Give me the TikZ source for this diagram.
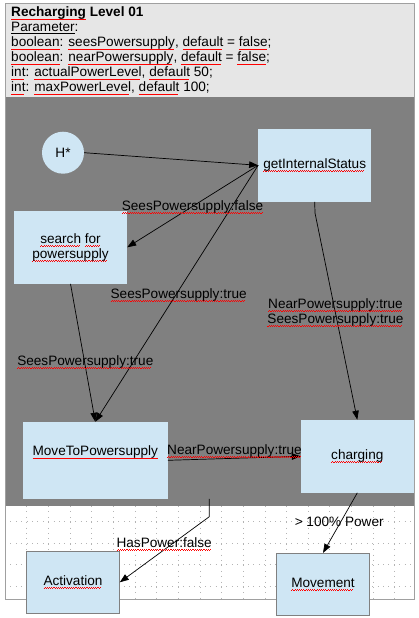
\documentclass[tikz,border=0pt]{standalone}
\usepackage{fontspec}
\setmainfont{Liberation Sans}
\usetikzlibrary{arrows.meta}
\definecolor{boxblue}{HTML}{CFE6F4}
\definecolor{hdrgrey}{HTML}{E6E6E6}
\definecolor{darkgrey}{HTML}{808080}
\definecolor{framegrey}{HTML}{A0A0A0}
\definecolor{gridgrey}{HTML}{B4B4B4}
\newsavebox\sqbox
\newcommand\sqw[1]{\sbox\sqbox{#1}\leavevmode\rlap{\textcolor{red}{\leaders\hbox{\rule[-3.3pt]{1.1pt}{0.8pt}\rule[-2.5pt]{1.1pt}{0.8pt}}\hskip\wd\sqbox}}\usebox\sqbox}
\tikzset{
  every node/.style={font=\fontsize{13.6}{15}\selectfont, text=black},
  statebox/.style={fill=boxblue, draw=none, align=center, inner sep=0pt},
  edgeline/.style={draw=black, line width=0.7pt, -{Triangle[length=9pt,width=6.5pt]}},
  lbl/.style={inner sep=0pt, anchor=base},
  gridline/.style={gridgrey, line width=0.7pt, dash pattern=on 1pt off 4.4pt}
}
\begin{document}
\begin{tikzpicture}[x=1pt,y=-1pt]
\useasboundingbox (0,0) rectangle (418,618);
% backgrounds
\fill[hdrgrey] (5,4) rectangle (414,97);
\fill[darkgrey] (5,97) rectangle (414,506);
\foreach \i in {0,...,17} \draw[gridline] ({26.7+21.65*\i},506) -- ({26.7+21.65*\i},599);
\foreach \j in {0,...,3} \draw[gridline] (5,{521.7+21.5*\j}) -- (414,{521.7+21.5*\j});
\draw[framegrey, line width=1pt] (5,4) rectangle (414,599);
% header
\node[anchor=north west, align=left, inner sep=0pt] (hdr) at (11,6.8) {%
\textbf{\sqw{Recharging} Level 01}\\
\underline{Parameter}:\\
\sqw{boolean}: \sqw{seesPowersupply}, \sqw{default} = \sqw{false};\\
\sqw{boolean}: \sqw{nearPowersupply}, \sqw{default} = \sqw{false};\\
\sqw{int}: \sqw{actualPowerLevel}, \sqw{default} 50;\\
\sqw{int}: \sqw{maxPowerLevel}, \sqw{default} 100;};
% states
\node[circle, fill=boxblue, minimum size=42pt, inner sep=0pt] (h) at (63,152.7) {H*};
\node[statebox, minimum width=112.7pt, minimum height=72.7pt] (gis) at (314.7,165.3) {\sqw{getInternalStatus}};
\node[statebox, minimum width=113pt, minimum height=72.7pt] (search) at (70.5,247.3) {\sqw{search} \sqw{for}\\\sqw{powersupply}};
\node[statebox, minimum width=144.7pt, minimum height=76.7pt, text height=9.5pt, text depth=18.5pt] (move) at (95.3,460.3) {\sqw{MoveToPowersupply}};
\node[statebox, minimum width=112.7pt, minimum height=72.7pt] (chg) at (357.3,456.3) {\sqw{charging}};
\node[statebox, draw=darkgrey, line width=0.8pt, minimum width=92.7pt, minimum height=62pt] (act) at (73,582.3) {\sqw{Activation}};
\node[statebox, draw=darkgrey, line width=0.8pt, minimum width=92.7pt, minimum height=61.7pt] (mov) at (323,584.2) {\sqw{Movement}};
% connectors
\coordinate (g1) at (315,213);
\coordinate (m2) at (209.3,516.7);
\draw[edgeline] (h.east) -- (gis.west);
\draw[edgeline] (gis.west) -- (search.east);
\draw[edgeline] (gis.west) -- (move.north);
\draw[edgeline] (search.south) -- (move.north);
\draw[edgeline] (gis.south) -- (g1) -- (chg.north);
\draw[edgeline] (move.east) -- (chg.west);
\draw[edgeline] (move.south -| m2) -- (m2) -- (act.east);
\draw[edgeline] (chg.south) -- (mov.north);
% labels
\node[lbl] (l1) at (192.5,210.7) {\sqw{SeesPowersupply:false}};
\node[lbl] (l2) at (178.7,298.3) {\sqw{SeesPowersupply:true}};
\node[inner sep=0pt, anchor=north, align=center] (l3) at (335.5,298.4) {\sqw{NearPowersupply:true}\\\sqw{SeesPowersupply:true}};
\node[lbl] (l4) at (85.3,365) {\sqw{SeesPowersupply:true}};
\node[lbl] (l5) at (234.5,454) {\sqw{NearPowersupply:true}};
\node[lbl] (l6) at (164.2,547.3) {\sqw{HasPower:false}};
\node[lbl] (l7) at (339.2,526.7) {> 100\% Power};
\end{tikzpicture}
\end{document}
